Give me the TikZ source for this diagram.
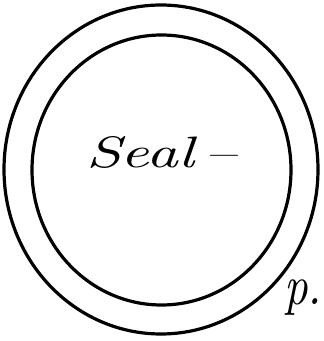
\documentclass[tikz,border=0pt]{standalone}
\usepackage{fontspec}
\begin{document}
\begin{tikzpicture}[x=1pt,y=1pt,
  ring/.style={draw=black,line width=3.2pt},
  hand/.style={font=\itshape,inner sep=0pt,xscale=6.2,yscale=4.4},
  handp/.style={font=\itshape,inner sep=0pt,xscale=4.6,yscale=5.6}]
\useasboundingbox (0,0) rectangle (324,341);
\draw[ring] (161,171.5) ellipse [x radius=157, y radius=164.5];
\draw[ring] (161.5,171) ellipse [x radius=129.5, y radius=135];
\node[hand] (seal) at (161,189) {Seal\,--};
\node[handp,anchor=east] (p) at (323,43) {p.};
\end{tikzpicture}
\end{document}
